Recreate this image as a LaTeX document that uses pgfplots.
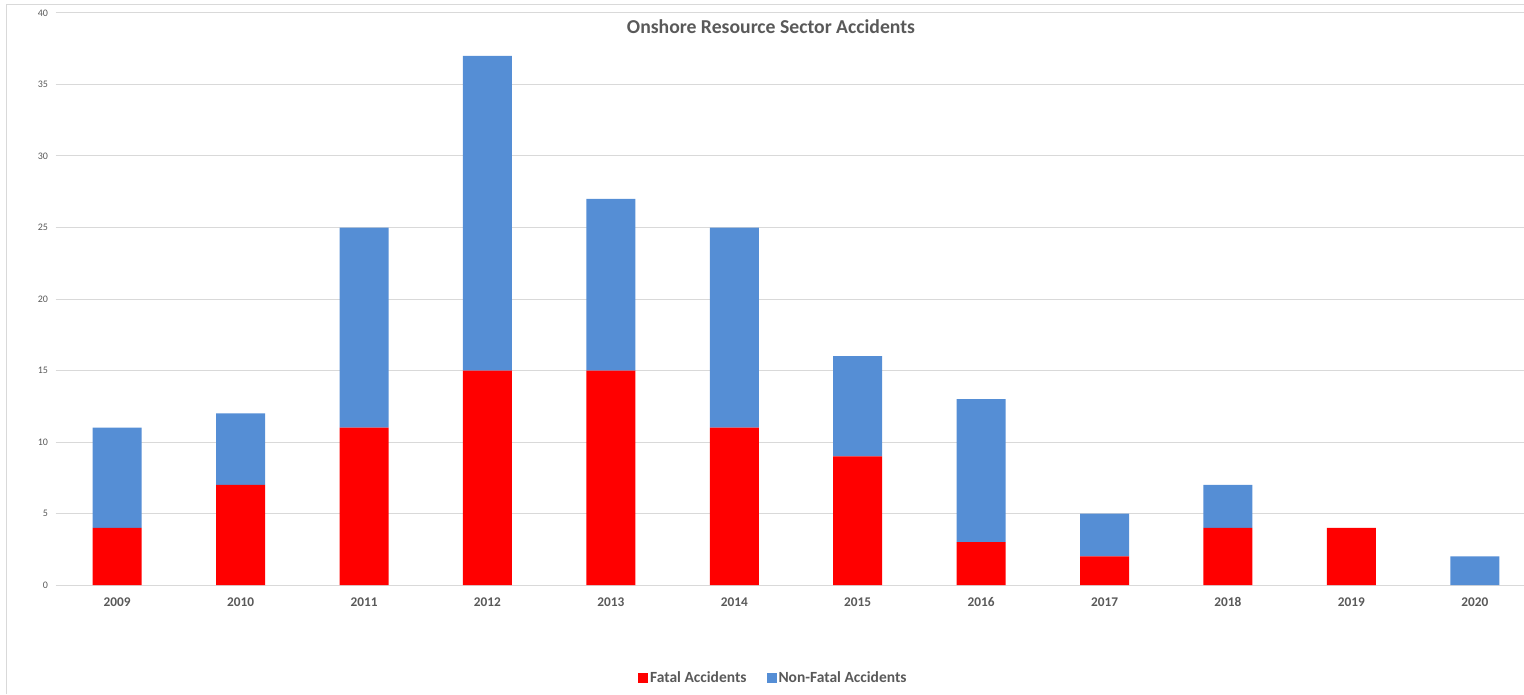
\documentclass[border=0pt]{standalone}
\usepackage{pgfplots}
\pgfplotsset{compat=1.18}
\usepackage{fontspec}
\setmainfont{Carlito}
\definecolor{txtgray}{HTML}{595959}
\definecolor{gridgray}{HTML}{D9D9D9}
\definecolor{fatal}{HTML}{FF0000}
\definecolor{nonfatal}{HTML}{558ED5}
\begin{document}
\begin{tikzpicture}[x=1pt,y=1pt]
\path[use as bounding box] (0,0) rectangle (1524,694);
\draw[gridgray,line width=1pt] (6.5,0) -- (6.5,689) -- (1524,689);
\node[font=\fontsize{19.7}{22}\selectfont\bfseries,text=txtgray] at (771,667) {Onshore Resource Sector Accidents};
\begin{axis}[
  at={(55.5pt,109pt)}, anchor=south west,
  scale only axis, width=1481pt, height=572pt,
  xmin=-0.5, xmax=11.5, ymin=0, ymax=40,
  ytick={0,5,...,40},
  xtick={0,...,11},
  xticklabels={2009,2010,2011,2012,2013,2014,2015,2016,2017,2018,2019,2020},
  axis line style={draw=none},
  major tick length=0pt,
  ymajorgrids, grid style={gridgray,line width=1pt},
  /pgf/number format/assume math mode=true,
  yticklabel style={font=\fontsize{10}{12}\selectfont,text=txtgray,xshift=-4pt},
  xticklabel style={font=\fontsize{13.3}{15}\selectfont\bfseries,text=txtgray,yshift=-9pt},
  ybar stacked, bar width=49pt,
  legend columns=2,
  legend style={at={(0.4847,-0.1626)},anchor=center,draw=none,fill=none,
    font=\fontsize{15.5}{17}\selectfont\bfseries,text=txtgray,
    /tikz/every even column/.append style={column sep=18pt}},
  legend image code/.code={\fill[#1] (0pt,-4.5pt) rectangle (10pt,5.5pt);},
]
\addplot[fill=fatal,draw=none] coordinates {(0,4) (1,7) (2,11) (3,15) (4,15) (5,11) (6,9) (7,3) (8,2) (9,4) (10,4) (11,0)};
\addplot[fill=nonfatal,draw=none] coordinates {(0,7) (1,5) (2,14) (3,22) (4,12) (5,14) (6,7) (7,10) (8,3) (9,3) (10,0) (11,2)};
\legend{Fatal Accidents,Non-Fatal Accidents}
\end{axis}
\end{tikzpicture}
\end{document}
